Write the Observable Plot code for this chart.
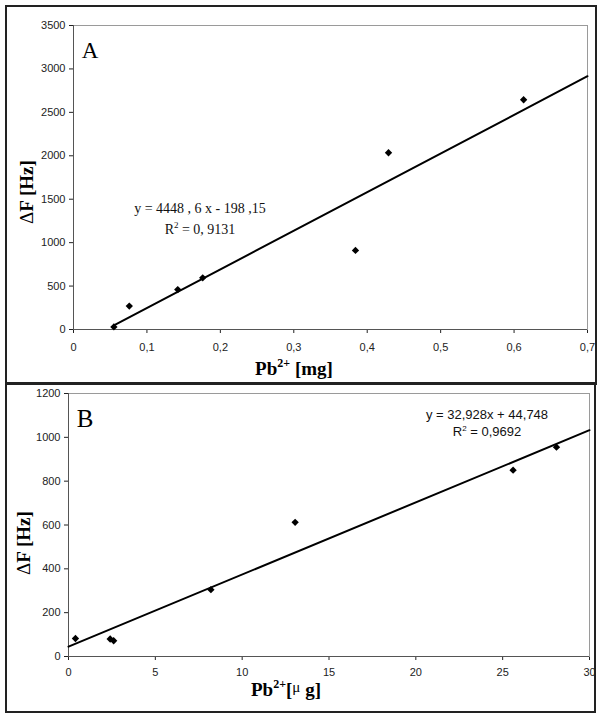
<!DOCTYPE html>
<html><head><meta charset="utf-8">
<script src="https://cdn.jsdelivr.net/npm/d3@7"></script>
<script src="https://cdn.jsdelivr.net/npm/@observablehq/plot@0.6"></script>
<style>
body{margin:0;background:#fff;}
#wrap{position:relative;width:602px;height:719px;overflow:hidden;background:#fff}
#wrap svg{position:absolute;left:0;}
.frame{position:absolute;border:2px solid #222;box-sizing:border-box;pointer-events:none}
</style></head><body>
<div id="wrap"></div>
<script>
// ---- Panel A data (mg) ----
const massA_mg = [0.055, 0.076, 0.142, 0.176, 0.384, 0.429, 0.613];
const dfA_Hz   = [30, 270, 460, 595, 910, 2035, 2645];
const slopeA = 4448.6, interceptA = -198.15;
const eqA_line1 = "y = 4448 , 6 x - 198 ,15";
const eqA_r2 = "0, 9131";
const xTicksA = [0, 0.1, 0.2, 0.3, 0.4, 0.5, 0.6, 0.7];
const yTicksA = [0, 500, 1000, 1500, 2000, 2500, 3000, 3500];

// ---- Panel B data (µg) ----
const massB_ug = [0.4, 2.4, 2.6, 8.2, 13.05, 25.6, 28.1];
const dfB_Hz   = [82, 80, 72, 305, 612, 850, 955];
const slopeB = 32.928, interceptB = 44.748;
const eqB_line1 = "y = 32,928x + 44,748";
const eqB_r2 = "0,9692";
const xTicksB = [0, 5, 10, 15, 20, 25, 30];
const yTicksB = [0, 200, 400, 600, 800, 1000, 1200];

const fmt = d => String(d).replace(".", ",");
const wrap = document.getElementById("wrap");

function panel(o) {
  const pts = o.xs.map((x, i) => ({x, y: o.ys[i]}));
  const trend = o.trendX.map(x => ({x, y: o.slope * x + o.intercept}));
  const svg = Plot.plot({
    width: 602, height: o.height,
    marginLeft: o.ml, marginRight: o.mr, marginTop: o.mt, marginBottom: o.mb,
    style: {fontFamily: "'Liberation Sans', Arial, sans-serif", fontSize: "11px", color: "#222", background: "transparent", overflow: "visible"},
    x: {domain: [o.xTicks[0], o.xTicks[o.xTicks.length - 1]], ticks: o.xTicks, tickFormat: fmt, label: null, tickSize: 4, tickPadding: o.xpad},
    y: {domain: [o.yTicks[0], o.yTicks[o.yTicks.length - 1]], ticks: o.yTicks, tickFormat: fmt, label: null, tickSize: 4, tickPadding: 4},
    marks: [
      Plot.frame({stroke: "#9a9a9a"}),
      Plot.ruleX([o.xTicks[0]], {stroke: "#555"}),
      Plot.ruleY([o.yTicks[0]], {stroke: "#555"}),
      Plot.line(trend, {x: "x", y: "y", stroke: "#000", strokeWidth: 2}),
      Plot.dot(pts, {x: "x", y: "y", symbol: "diamond2", r: 3.3, fill: "#000", stroke: "none"})
    ]
  });
  svg.style.top = o.top + "px";
  wrap.appendChild(svg);
  return d3.select(svg);
}

// Panel A
const sA = panel({xs: massA_mg, ys: dfA_Hz, slope: slopeA, intercept: interceptA,
  trendX: [d3.min(massA_mg), xTicksA[xTicksA.length - 1]],
  xTicks: xTicksA, yTicks: yTicksA, height: 383, top: 0,
  ml: 73, mr: 15, mt: 25, mb: 54, xpad: 10});

sA.append("text").attr("x", 90).attr("y", 58)
  .attr("font-family", "'Liberation Serif', 'Times New Roman', serif").attr("font-size", 23).attr("fill", "#000").text("A");
sA.append("text").attr("x", 200).attr("y", 213).attr("text-anchor", "middle")
  .attr("font-family", "'Liberation Serif', 'Times New Roman', serif").attr("font-size", 14).attr("fill", "#111").text(eqA_line1);
{
  const t = sA.append("text").attr("x", 200).attr("y", 234).attr("text-anchor", "middle")
    .attr("font-family", "'Liberation Serif', 'Times New Roman', serif").attr("font-size", 14).attr("fill", "#111");
  t.append("tspan").text("R");
  t.append("tspan").attr("font-size", 9).attr("dy", -6).text("2");
  t.append("tspan").attr("dy", 6).text(" = " + eqA_r2);
}
{
  const t = sA.append("text").attr("transform", "translate(26,192) rotate(-90)").attr("text-anchor", "middle")
    .attr("dominant-baseline", "central")
    .attr("font-family", "'Liberation Serif', 'Times New Roman', serif").attr("font-size", 19).attr("font-weight", "bold").attr("fill", "#000");
  t.append("tspan").attr("font-weight", "normal").text("Δ");
  t.append("tspan").text("F [Hz]");
}
{
  const t = sA.append("text").attr("x", 294).attr("y", 375).attr("text-anchor", "middle")
    .attr("font-family", "'Liberation Serif', 'Times New Roman', serif").attr("font-size", 19).attr("font-weight", "bold").attr("fill", "#000");
  t.append("tspan").text("Pb");
  t.append("tspan").attr("font-size", 12).attr("dy", -8).text("2+");
  t.append("tspan").attr("dy", 8).text(" [mg]");
}

// Panel B
const sB = panel({xs: massB_ug, ys: dfB_Hz, slope: slopeB, intercept: interceptB,
  trendX: [xTicksB[0], xTicksB[xTicksB.length - 1]],
  xTicks: xTicksB, yTicks: yTicksB, height: 336, top: 383,
  ml: 68, mr: 13, mt: 10, mb: 63, xpad: 8});

sB.append("text").attr("x", 85).attr("y", 44)
  .attr("font-family", "'Liberation Serif', 'Times New Roman', serif").attr("font-size", 25).attr("fill", "#000").text("B");
sB.append("text").attr("x", 487).attr("y", 36).attr("text-anchor", "middle")
  .attr("font-family", "'Liberation Sans', Arial, sans-serif").attr("font-size", 13).attr("fill", "#111").text(eqB_line1);
{
  const t = sB.append("text").attr("x", 487).attr("y", 53).attr("text-anchor", "middle")
    .attr("font-family", "'Liberation Sans', Arial, sans-serif").attr("font-size", 13).attr("fill", "#111");
  t.append("tspan").text("R");
  t.append("tspan").attr("font-size", 8).attr("dy", -5).text("2");
  t.append("tspan").attr("dy", 5).text(" = " + eqB_r2);
}
{
  const t = sB.append("text").attr("transform", "translate(23,160) rotate(-90)").attr("text-anchor", "middle")
    .attr("dominant-baseline", "central")
    .attr("font-family", "'Liberation Serif', 'Times New Roman', serif").attr("font-size", 19).attr("font-weight", "bold").attr("fill", "#000");
  t.append("tspan").attr("font-weight", "normal").text("Δ");
  t.append("tspan").text("F [Hz]");
}
{
  const t = sB.append("text").attr("x", 286).attr("y", 313).attr("text-anchor", "middle")
    .attr("font-family", "'Liberation Serif', 'Times New Roman', serif").attr("font-size", 19).attr("font-weight", "bold").attr("fill", "#000");
  t.append("tspan").text("Pb");
  t.append("tspan").attr("font-size", 12).attr("dy", -8).text("2+");
  t.append("tspan").attr("dy", 8).text("[");
  t.append("tspan").attr("font-weight", "normal").attr("font-size", 15).attr("dy", -4).text("μ");
  t.append("tspan").attr("dy", 4).text(" g]");
}

// outer frames
for (const f of [{l: 5, t: 5, w: 592, h: 380}, {l: 5, t: 382, w: 591, h: 331}]) {
  const d = document.createElement("div");
  d.className = "frame";
  Object.assign(d.style, {left: f.l + "px", top: f.t + "px", width: f.w + "px", height: f.h + "px"});
  wrap.appendChild(d);
}
</script>
</body></html>
